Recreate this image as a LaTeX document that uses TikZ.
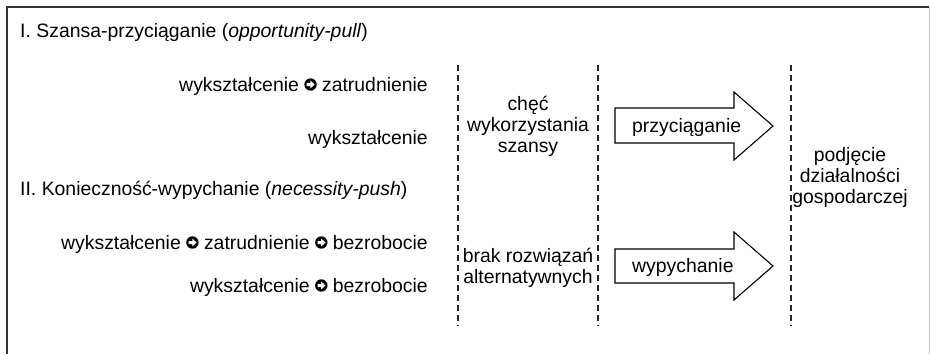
\documentclass[tikz,border=0pt]{standalone}
\usepackage{fontspec}
\setmainfont{Liberation Sans}
% small black disc with a white right arrow, used between the stages of a path
\newsavebox{\nxtbox}
\sbox{\nxtbox}{\begin{tikzpicture}[x=1pt,y=1pt,baseline=0pt]
  \fill[black] (6,6.5) circle (6.2pt);
  \fill[white] (2.2,5.0) -- (5.9,5.0) -- (5.9,2.6) -- (10.2,6.5) -- (5.9,10.4)
    -- (5.9,8.0) -- (2.2,8.0) -- cycle;
\end{tikzpicture}}
\newcommand{\nxt}{\usebox{\nxtbox}}
\begin{document}
\begin{tikzpicture}[x=1pt,y=-1pt,
  every node/.style={inner sep=0pt, font=\fontsize{19.4}{21}\selectfont},
  rtext/.style={anchor=base east},
  ltext/.style={anchor=base west},
  ctext/.style={align=center},
  divider/.style={line width=1.4pt, dash pattern=on 6pt off 4pt, black!85},
  bigarrow/.style={draw, line width=1.1pt, fill=white, line join=miter}]
\useasboundingbox (0,0) rectangle (930,354);

% outer frame: dark left and top edges, light right edge
\draw[line width=2pt, black!80] (6.5,354) -- (6.5,7) -- (929,7);
\draw[line width=1pt, black!25] (929,7) -- (929,354);

% section headings
\node[ltext] (h1) at (20,37) {I. Szansa-przyciąganie (\textit{opportunity-pull})};
\node[ltext] (h2) at (20,195) {II. Konieczność-wypychanie (\textit{necessity-push})};

% left column: paths
\node[rtext] (p1) at (428,91) {wykształcenie \nxt\ zatrudnienie};
\node[rtext] (p2) at (428,144) {wykształcenie};
\node[rtext] (p3) at (428,249) {wykształcenie \nxt\ zatrudnienie \nxt\ bezrobocie};
\node[rtext] (p4) at (428,292) {wykształcenie \nxt\ bezrobocie};

% dashed column dividers
\coordinate (d1t) at (458,65);  \coordinate (d1b) at (458,326);
\coordinate (d2t) at (598,65);  \coordinate (d2b) at (598,326);
\coordinate (d3t) at (791,65);  \coordinate (d3b) at (791,326);
\draw[divider] (d1t) -- (d1b);
\draw[divider] (d2t) -- (d2b);
\draw[divider] (d3t) -- (d3b);

% motives
\node[ctext] (m1) at (528,126) {chęć\\wykorzystania\\szansy};
\node[ctext] (m2) at (528,268) {brak rozwiązań\\alternatywnych};

% block arrows
\draw[bigarrow] (615,108) -- (734,108) -- (734,92) -- (773,126) -- (734,160)
  -- (734,143) -- (615,143) -- cycle;
\node[ltext] (a1) at (632,132) {przyciąganie};
\draw[bigarrow] (615,249) -- (734,249) -- (734,232) -- (773,266) -- (734,300)
  -- (734,283) -- (615,283) -- cycle;
\node[ltext] (a2) at (632,272) {wypychanie};

% outcome
\node[ctext] (out) at (850,177) {podjęcie\\działalności\\gospodarczej};
\end{tikzpicture}
\end{document}
